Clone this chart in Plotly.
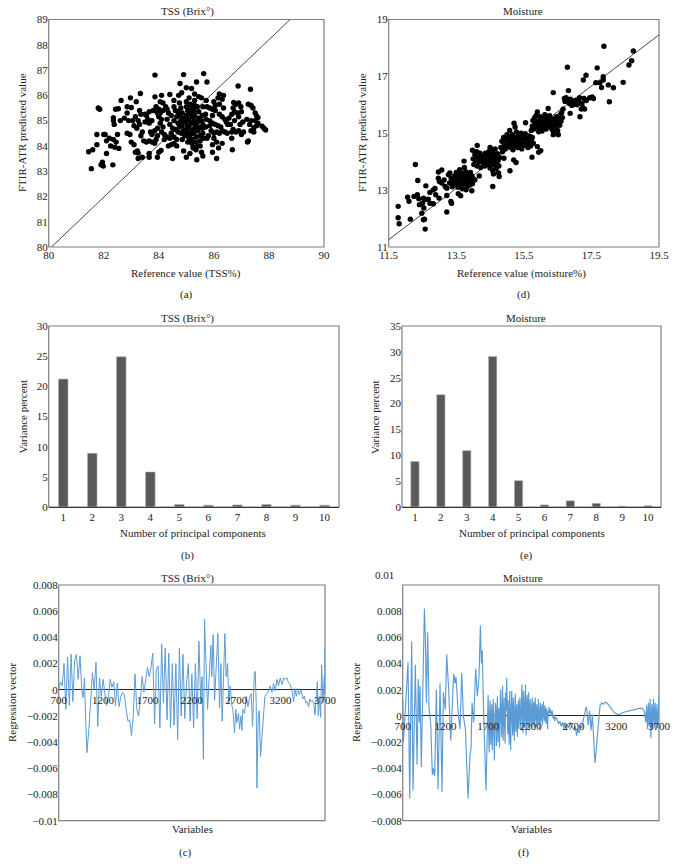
#Recreating the six panel chart: scatter, bars and regression vectors
import plotly.graph_objects as go

W, H = 676, 864
SERIF = "Liberation Serif"

#Panel (a): reference vs predicted, TSS
tss_sparse = [
    (81.45,83.77),(81.6,83.85),(81.55,83.1),(81.75,84.05),(81.75,84.45),(81.8,85.5),(81.85,85.45),(81.9,83.25),
    (81.95,83.35),(81.98,83.2),(82.0,84.45),(82.05,84.45),(82.1,84.2),(82.1,83.7),(82.2,84.3),(82.25,84.0),
    (82.35,84.25),(82.33,83.25),(82.4,83.95),(82.45,84.15),(82.5,84.45),(82.55,83.9),(82.35,85.12),(82.35,85.0),
    (82.38,84.85),(82.43,85.45),(82.53,85.47),(82.6,85.0),(82.63,85.8),(82.75,85.1),(82.85,84.5),(82.9,85.0),
    (82.85,85.3),(82.85,85.55),(82.95,84.45),(83.0,85.52),(83.0,84.15),(83.05,85.0),(82.97,85.9),(83.15,85.15),
    (83.1,84.05),(83.1,84.8),(83.2,84.7),(83.18,85.75),(83.15,83.75),(83.22,83.8),(83.25,83.5),(83.25,83.72),
    (83.33,86.07),(83.86,86.8),(84.9,86.82),(85.63,86.86),(84.77,86.47),(85.75,86.53),(85.37,86.53),(85.0,86.3),
    (85.19,86.27),(83.86,85.94),(84.1,86.0),(84.4,86.03),(84.72,86.0),(84.83,86.1),(86.88,86.37),(87.33,86.24),
    (83.4,83.55),(83.65,83.7),(83.65,83.55),(83.95,83.55),(84.0,83.75),(84.08,83.82),(84.5,83.5),(84.9,83.8),
    (85.0,83.55),(85.13,83.7),(85.38,83.45),(85.55,83.75),(85.6,83.6),(85.95,83.75),(86.1,83.5),(86.67,83.85),
    (86.17,83.92),(86.3,84.1),(87.22,84.15),(87.25,84.2),(84.35,84.0),(84.45,84.05),(84.55,84.1),(85.25,83.92),
]
tss_ring = [
    (83.3,85.4),(83.35,85.25),(83.25,85.0),(83.3,84.85),(83.4,84.55),(83.35,84.4),(83.45,84.2),(83.55,84.15),
    (83.65,84.2),(83.75,84.15),(83.85,84.1),(83.9,84.25),(83.95,84.4),(83.75,84.45),(83.7,84.55),(83.85,84.6),
    (83.55,85.2),(83.6,85.05),(83.5,84.95),(83.65,84.9),(83.75,85.0),(83.5,85.25),(83.65,85.35),(83.8,85.4),
    (83.95,85.3),(84.0,85.45),(84.05,85.3),(84.15,85.4),(84.0,85.15),(84.1,85.05),(84.05,84.9),(84.15,84.75),
    (83.95,84.7),(84.1,84.55),(84.2,84.45),(84.3,84.35),(84.2,84.25),(83.9,85.55),(84.05,85.75),(84.15,85.7),
    (84.3,85.45),(84.35,85.3),(84.45,85.2),(84.3,85.05),(84.4,84.85),(84.5,84.7),(84.45,84.5),(84.55,84.35),
    (84.65,84.25),(84.7,84.55),(84.25,85.55),(84.55,85.55),(84.6,85.4),(84.65,85.15),(84.55,85.0),(84.7,84.9),
]
tss_core = [
    (84.75,85.7),(84.8,85.5),(84.85,85.3),(84.9,85.1),(84.8,85.0),(84.85,84.8),(84.9,84.6),(84.95,84.4),
    (84.85,84.25),(85.0,85.75),(85.0,85.55),(85.05,85.4),(85.0,85.2),(85.05,85.05),(84.95,84.95),(85.05,84.8),
    (85.0,84.65),(85.05,84.5),(85.1,84.3),(85.05,84.15),(85.1,85.9),(85.15,85.65),(85.2,85.5),(85.15,85.3),
    (85.2,85.15),(85.1,85.0),(85.2,84.9),(85.1,84.75),(85.2,84.6),(85.15,84.45),(85.2,84.25),(85.2,84.1),
    (85.25,83.95),(85.3,86.05),(85.3,85.8),(85.3,85.6),(85.28,85.4),(85.3,85.2),(85.3,85.0),(85.32,84.85),
    (85.3,84.7),(85.28,84.5),(85.35,84.35),(85.35,84.15),(85.4,84.0),(85.35,83.85),(85.45,85.95),(85.55,85.9),
    (85.4,85.55),(85.45,85.35),(85.45,85.1),(85.4,84.95),(85.45,84.75),(85.42,84.6),(85.5,84.4),(85.5,84.2),
    (85.5,84.0),(85.6,85.55),(85.75,85.55),(85.72,85.8),(85.58,85.2),(85.55,85.0),(85.6,84.85),(85.58,84.7),
    (85.6,84.5),(85.62,84.3),(85.75,84.3),(85.8,84.4),(85.7,84.75),(85.72,85.05),(85.7,85.25),(85.85,85.5),
    (85.95,85.45),(86.05,85.4),(86.2,85.25),(86.3,85.15),(86.4,85.05),(86.45,84.95),(86.5,84.85),(85.85,85.0),
    (85.95,84.9),(86.05,84.85),(86.15,84.8),(86.25,84.75),(85.95,85.2),(85.85,84.8),(85.9,84.6),(86.0,84.5),
    (86.1,84.55),(86.2,84.5),(86.3,84.6),(86.4,84.55),(86.48,84.5),(86.0,84.3),(85.95,84.05),(86.1,84.15),
    (86.0,85.75),(86.05,85.6),(86.2,85.65),(86.15,85.9),(86.2,86.05),(86.35,86.0),(86.3,85.85),(86.35,85.5),
    (84.65,84.0),(84.55,85.8),(84.7,85.35),(84.75,84.75),(84.82,84.5),(84.4,84.3),(84.6,84.65),(84.75,85.2),
]
tss_right = [
    (86.55,85.1),(86.65,85.25),(86.7,85.5),(86.72,85.72),(86.8,85.65),(86.9,85.7),(86.98,85.55),(87.0,85.35),
    (86.9,85.15),(86.85,85.3),(86.75,85.35),(86.7,84.65),(86.65,84.55),(86.65,84.3),(86.8,84.55),(86.9,84.6),
    (86.95,84.85),(87.0,84.45),(87.05,84.95),(87.08,84.55),(87.2,85.05),(87.25,85.65),(87.35,85.6),(87.42,85.5),
    (87.5,85.3),(87.55,85.18),(87.6,85.12),(87.5,85.0),(87.35,85.0),(87.3,84.85),(87.35,84.6),(87.45,84.55),
    (87.55,84.8),(87.6,84.9),(87.75,84.78),(87.82,84.7),(87.88,84.63),(87.45,84.72),(86.6,84.85),(86.75,85.0),
]
tss_line_x = [80.1, 88.77]
tss_line_y = [80, 89]

#Panel (d): reference vs predicted, moisture
moist_low = [
    (11.78,12.43),(11.78,12.03),(11.81,11.82),(12.06,12.75),(12.1,12.61),(12.14,11.98),(12.25,12.78),(12.29,13.9),
    (12.35,12.84),(12.36,13.34),(12.39,12.7),(12.41,12.49),(12.48,12.19),(12.53,12.72),(12.5,12.54),(12.54,12.37),
    (12.53,11.96),(12.56,11.98),(12.58,11.63),(12.6,13.15),(12.57,12.66),(12.67,12.68),(12.72,12.54),(12.72,12.92),
    (12.82,13.01),(12.87,13.06),(12.82,12.52),(12.89,12.84),(12.99,12.72),(12.97,13.64),(13.07,13.71),(12.97,13.42),
    (13.0,13.3),(13.07,13.25),(13.14,13.36),(13.17,13.13),(13.22,13.07),(13.22,12.81),(13.22,12.23),(13.34,12.6),
    (13.36,12.54),(13.27,13.54),(13.31,13.6),(13.56,12.87),(13.63,12.8),(13.79,13.01),(13.96,12.98),(14.05,13.36),
    (14.18,13.5),(13.73,14.02),
]
moist_blob1 = [
    (13.3,13.25),(13.35,13.42),(13.38,13.12),(13.42,13.3),(13.45,13.5),(13.48,13.2),(13.5,13.62),(13.52,13.38),
    (13.55,13.1),(13.57,13.28),(13.58,13.55),(13.6,13.72),(13.62,13.42),(13.64,13.18),(13.66,13.6),(13.68,13.05),
    (13.7,13.32),(13.72,13.5),(13.74,13.8),(13.76,13.22),(13.78,13.65),(13.8,13.4),(13.82,13.12),(13.84,13.55),
    (13.86,13.28),(13.88,13.44),(13.9,13.18),(13.92,13.62),(13.94,13.34),(13.96,13.5),(13.98,13.22),(14.0,13.4),
]
moist_band = [
    (13.98,14.4),(14.0,14.1),(14.02,13.9),(14.05,14.25),(14.07,14.05),(14.1,14.35),(14.12,14.57),(14.12,13.85),
    (14.15,14.15),(14.18,14.0),(14.2,14.3),(14.22,13.8),(14.25,14.1),(14.28,14.2),(14.3,13.95),(14.32,14.05),
    (14.35,13.85),(14.36,14.3),(14.38,14.12),(14.4,14.0),(14.42,14.22),(14.45,13.9),(14.46,14.35),(14.48,14.08),
    (14.5,14.5),(14.5,13.78),(14.52,14.2),(14.54,13.95),(14.55,14.42),(14.57,14.1),(14.58,13.68),(14.6,14.3),
    (14.62,13.88),(14.64,14.02),(14.65,14.45),(14.67,14.18),(14.68,13.75),(14.7,13.95),(14.72,14.28),(14.74,14.05),
    (14.76,13.85),(14.78,14.15),(14.58,13.13),(14.6,13.57),(14.75,13.6),(14.77,13.48),(15.09,13.68),(15.2,14.06),
    (15.27,13.97),(14.91,14.12),
]
moist_blob2 = [
    (14.82,14.5),(14.85,14.72),(14.87,14.35),(14.9,14.85),(14.92,14.6),(14.95,14.45),(14.97,14.78),(15.0,14.95),
    (15.02,14.55),(15.04,14.7),(15.06,14.88),(15.08,15.1),(15.1,14.5),(15.12,14.65),(15.14,14.8),(15.16,14.95),
    (15.18,14.42),(15.21,15.35),(15.2,14.72),(15.22,14.58),(15.24,15.22),(15.26,14.85),(15.28,15.05),(15.3,14.68),
    (15.32,14.5),(15.34,14.92),(15.36,14.75),(15.38,14.6),(15.4,14.85),(15.42,15.0),(15.44,14.45),(15.46,14.7),
    (15.48,14.92),(15.5,14.58),(15.52,14.8),(15.55,15.37),(15.54,14.98),(15.57,14.62),(15.6,14.82),(15.62,14.5),
    (15.65,14.72),(15.68,14.9),(15.7,14.55),(15.72,14.78),(15.75,14.85),(15.74,14.16),(15.78,14.65),(15.9,14.53),
    (15.94,14.33),(16.0,14.39),
]
moist_blob3 = [
    (15.72,15.1),(15.75,15.25),(15.77,15.45),(15.8,15.15),(15.82,15.55),(15.84,15.35),(15.86,15.62),(15.88,15.2),
    (15.9,15.75),(15.92,15.42),(15.94,15.05),(15.96,15.3),(15.98,15.58),(16.0,15.2),(16.02,15.45),(16.04,15.08),
    (16.06,15.35),(16.08,15.52),(16.1,15.22),(16.12,15.65),(16.14,15.4),(16.16,15.15),(16.18,15.55),(16.2,15.3),
    (16.22,15.87),(16.24,15.45),(16.26,15.62),(16.37,16.43),
]
moist_blob4 = [
    (16.3,15.2),(16.32,15.38),(16.34,15.12),(16.36,15.5),(16.37,14.95),(16.38,15.05),(16.4,15.3),(16.42,15.45),
    (16.44,15.18),(16.46,15.58),(16.48,15.35),(16.5,15.1),(16.52,14.95),(16.54,15.5),(16.56,15.28),(16.58,15.65),
    (16.6,15.42),(16.62,15.72),(16.64,15.55),(16.66,15.85),(16.7,16.22),(16.72,16.12),(16.75,16.25),(16.79,17.32),
    (16.82,16.5),(16.82,16.15),(16.85,16.05),(16.87,15.7),(16.88,16.2),(16.92,15.98),(16.95,16.1),(16.98,16.02),
    (17.02,16.15),(17.05,16.05),(17.08,16.0),(17.12,16.12),(17.16,15.58),(17.15,16.25),(17.2,15.85),(17.22,16.05),
    (17.25,15.9),(17.28,16.22),(17.3,15.85),(17.35,16.15),(17.45,16.25),(17.52,16.28),(17.56,16.22),
]
moist_top = [
    (17.26,16.87),(17.67,17.3),(17.34,17.04),(17.87,18.06),(17.85,16.99),(17.85,16.87),(17.63,16.78),(17.75,16.78),
    (17.8,16.61),(18.0,16.7),(18.15,16.6),(18.03,16.11),(18.44,16.79),(18.61,17.4),(18.69,17.55),(18.74,17.89),
]
moist_line_x = [11.5, 19.5]
moist_line_y = [11.26, 18.46]

#Panels (b) and (e): variance per component
components = ["1", "2", "3", "4", "5", "6", "7", "8", "9", "10"]
var_tss = [21.2, 8.9, 24.9, 5.8, 0.4, 0.3, 0.35, 0.4, 0.3, 0.3]
var_moist = [8.8, 21.7, 10.9, 29.1, 5.1, 0.4, 1.2, 0.7, 0.15, 0.25]

#Panels (c) and (f): regression vectors, (variable, value x 1000)
rv_tss = [
    (700,0.0),(720,0.6),(740,0.3),(760,2.0),(780,-1.5),(800,2.5),(820,-1.2),(840,2.7),(860,-0.9),(880,2.3),
    (900,2.7),(920,0.8),(940,2.6),(960,0.0),(975,-0.6),(990,0.9),(1005,-2.5),(1018,-4.8),(1040,-3.0),(1060,-1.0),
    (1080,1.3),(1100,0.0),(1120,2.1),(1140,-2.8),(1160,0.9),(1180,-0.5),(1200,0.8),(1220,-0.3),(1240,-1.2),(1260,-0.6),
    (1280,0.8),(1300,0.2),(1320,0.6),(1340,-1.2),(1360,0.5),(1380,-1.3),(1400,-0.5),(1420,-0.2),(1440,-0.4),(1460,-1.5),
    (1480,-2.4),(1500,-2.3),(1520,-3.5),(1540,-2.0),(1560,1.2),(1580,-1.5),(1600,-2.0),(1620,-0.8),(1640,1.0),(1660,-0.2),
    (1680,0.6),(1700,1.7),(1720,1.0),(1740,1.7),(1760,2.8),(1780,-2.6),(1800,1.5),(1820,1.8),(1840,-2.9),(1860,3.5),
    (1880,-1.0),(1900,3.2),(1920,-2.3),(1940,2.8),(1960,-2.9),(1980,2.0),(2000,-2.7),(2020,2.0),(2040,-3.8),(2060,3.2),
    (2080,-2.0),(2100,2.7),(2120,-2.2),(2140,0.5),(2160,2.0),(2180,-2.4),(2200,1.2),(2220,-2.9),(2240,2.0),(2260,-2.2),
    (2280,3.7),(2300,-1.0),(2315,1.0),(2330,-5.3),(2343,5.4),(2360,1.0),(2377,-1.5),(2392,0.5),(2414,3.4),(2425,1.0),
    (2440,4.2),(2456,-0.8),(2470,1.0),(2493,4.3),(2512,-1.4),(2527,2.0),(2542,-2.4),(2557,2.0),(2572,4.3),(2587,1.0),
    (2602,2.0),(2617,-1.0),(2632,0.3),(2651,-1.2),(2662,-1.5),(2681,-3.3),(2696,-1.5),(2707,-2.5),(2726,-1.8),(2737,-3.0),
    (2753,-2.0),(2764,-3.1),(2775,-1.5),(2794,-1.8),(2813,-0.5),(2832,-1.3),(2850,-0.6),(2869,-0.3),(2884,-2.8),(2903,1.2),
    (2914,1.4),(2925,-1.0),(2933,-7.5),(2948,-2.0),(2959,-1.6),(2974,-5.1),(2989,-3.5),(3008,-1.5),(3023,-0.5),(3045,-0.3),
    (3064,-0.1),(3083,0.3),(3102,-0.2),(3121,0.5),(3140,-0.1),(3159,0.8),(3177,0.3),(3196,0.9),(3215,0.4),(3234,0.9),
    (3253,0.8),(3271,0.9),(3290,0.5),(3309,0.4),(3328,-0.1),(3347,-0.9),(3358,0.1),(3377,-0.5),(3392,0.1),(3410,-0.4),
    (3429,0.0),(3452,-0.7),(3467,-0.5),(3482,-1.0),(3497,-0.9),(3516,-1.3),(3527,-0.7),(3542,-0.9),(3557,-0.8),(3572,-1.0),
    (3587,-1.9),(3602,-0.5),(3614,0.6),(3625,-2.0),(3640,-0.5),(3651,-2.1),(3662,1.9),(3677,-1.0),(3692,1.0),(3697,-0.3),(3700,3.2),
]
rv_moist_low = [
    (700,1.2),(708,-2.0),(727,0.0),(747,2.0),(762,4.1),(782,-6.3),(805,5.7),(821,-5.7),(848,3.9),(868,-3.7),
    (883,2.8),(895,-0.5),(903,2.3),(918,-3.9),(934,1.0),(954,8.2),(965,6.0),(977,1.0),(993,6.4),(1008,0.6),
    (1028,-0.6),(1047,-4.5),(1059,-4.0),(1075,-4.6),(1094,2.0),(1114,-5.6),(1137,2.5),(1160,-5.8),(1176,1.8),(1199,0.5),
    (1215,4.7),(1238,2.0),(1262,-1.9),(1297,3.2),(1313,2.5),(1324,3.0),(1352,0.0),(1371,-1.0),(1391,3.3),(1410,0.0),
    (1434,-1.0),(1449,-4.0),(1465,-6.3),(1488,-3.0),(1500,-2.5),(1512,1.0),(1531,-0.5),(1554,3.6),(1574,1.5),(1593,3.0),
    (1609,6.9),(1621,4.0),(1632,5.0),(1644,1.0),(1660,-3.0),(1675,-5.7),(1691,-1.0),
]
rv_moist_dense = [
    (1700,1.6),(1706,-1.2),(1712,-2.8),(1718,0.4),(1724,1.2),(1730,-2.2),(1736,-0.8),(1742,0.9),(1748,-2.6),(1754,-0.5),
    (1760,1.3),(1766,-1.0),(1773,-3.4),(1779,-0.6),(1785,1.0),(1791,0.2),(1797,-2.3),(1803,0.5),(1809,1.5),(1815,-2.0),
    (1821,-0.3),(1827,0.6),(1833,-2.4),(1839,-0.7),(1845,2.0),(1851,0.3),(1857,-1.6),(1863,0.8),(1869,2.3),(1875,-1.9),
    (1881,0.1),(1887,1.4),(1893,-0.9),(1899,-2.1),(1905,1.8),(1911,0.4),(1917,2.9),(1923,-0.4),(1929,-1.4),(1935,1.2),
    (1941,-0.6),(1947,-2.2),(1953,1.9),(1958,-0.8),(1964,-2.6),(1970,0.3),(1976,1.9),(1982,-0.3),(1988,-1.5),(1994,1.4),
    (2000,0.2),(2006,-1.9),(2012,0.6),(2018,1.7),(2024,-1.2),(2030,0.3),(2036,0.9),(2042,-1.6),(2048,-0.2),(2054,1.2),
    (2060,-1.0),(2066,0.5),(2072,1.4),(2078,-0.4),(2084,-1.1),(2090,1.0),(2096,2.4),(2102,-0.2),(2108,-1.3),(2114,1.9),
    (2120,0.3),(2126,-0.9),(2132,1.1),(2138,2.4),(2144,-1.5),(2150,0.2),(2156,1.6),(2162,-0.8),(2168,0.4),(2174,1.8),
    (2180,-1.1),(2186,0.6),(2192,1.3),(2198,-0.3),(2204,-1.0),(2210,0.8),(2216,1.4),(2222,-0.7),(2228,0.2),(2234,1.1),
    (2240,-0.9),(2246,0.3),(2252,1.4),(2258,-0.2),(2264,-0.8),(2270,0.9),(2276,0.2),(2282,-0.6),(2288,1.3),(2294,0.1),
    (2300,-1.0),(2306,0.4),(2312,1.0),(2318,-0.5),(2324,0.2),(2330,0.9),(2336,-0.7),(2342,0.5),(2348,1.1),(2354,-0.1),
    (2360,-0.4),(2366,0.8),(2372,-0.2),(2378,-0.6),(2384,0.6),(2390,0.0),(2396,-1.0),(2402,0.4),(2408,0.1),(2414,0.7),
    (2420,0.2),(2430,0.5),(2440,0.0),(2450,0.4),(2460,-0.2),(2470,0.1),(2480,-0.4),(2490,-0.1),
]
rv_moist_high = [
    (2510,-0.3),(2525,-0.6),(2540,-0.4),(2555,-0.8),(2570,-0.5),(2585,-0.9),(2600,-0.6),(2615,-1.1),(2630,-0.7),(2645,-0.9),
    (2660,-0.5),(2675,-0.8),(2690,-0.9),(2705,-1.1),(2720,-0.8),(2735,-1.5),(2750,-1.0),(2765,-1.3),(2780,-0.8),(2795,-0.9),
    (2810,-0.5),(2825,-0.1),(2848,0.7),(2858,0.3),(2872,-0.7),(2888,0.4),(2905,-1.1),(2920,0.1),(2935,-1.9),(2951,-3.6),
    (2965,-2.6),(2977,-1.5),(2990,-0.5),(3010,0.8),(3030,1.0),(3050,0.9),(3070,1.05),(3090,1.0),(3110,0.85),(3125,0.7),
    (3145,0.5),(3165,0.35),(3190,0.2),(3220,0.1),(3245,0.15),(3270,0.25),(3300,0.3),(3330,0.35),(3360,0.45),(3390,0.5),
    (3420,0.55),(3450,0.6),(3480,0.6),(3510,0.55),(3530,0.3),(3545,-0.5),(3555,0.8),(3565,-1.0),(3575,1.0),(3585,-0.8),
    (3595,1.3),(3605,-1.7),(3615,0.9),(3625,-1.0),(3635,1.3),(3645,-0.9),(3655,1.0),(3665,-1.1),(3675,0.9),(3685,-0.9),
    (3695,0.7),(3700,1.6),
]

#Position of each panel in pixels: left, right, top, bottom
panels = {
    "a": (48.7, 324, 19.5, 247),
    "d": (388.7, 659, 19.5, 247),
    "b": (48.7, 339, 326, 507),
    "e": (402, 661, 326, 507),
    "c": (58.7, 325, 585, 820.7),
    "f": (402.7, 659, 585, 820.7),
}
frame_color = "#7f7f7f"
line_blue = "#5b9bd5"

fig = go.Figure()


def frac_x(px):
    return px / W


def frac_y(py):
    return 1 - py / H


def setup_axes(idx, key, xaxis, yaxis):
    l, r, t, b = panels[key]
    base = dict(showgrid=False, zeroline=False, ticks="", showline=False, automargin=False,
                tickfont=dict(family=SERIF, size=11, color="#222"))
    fig.update_layout({
        f"xaxis{idx}": {**base, "domain": [frac_x(l), frac_x(r)], "anchor": f"y{idx}", **xaxis},
        f"yaxis{idx}": {**base, "domain": [frac_y(b), frac_y(t)], "anchor": f"x{idx}", **yaxis},
    })
    fig.add_shape(type="rect", xref="paper", yref="paper", x0=frac_x(l), x1=frac_x(r), y0=frac_y(b), y1=frac_y(t),
                  line=dict(color=frame_color, width=1.2), layer="below")


def label(text, px, py, angle=0, anchor="center", size=11):
    fig.add_annotation(text=text, x=frac_x(px), y=frac_y(py), xref="paper", yref="paper", showarrow=False,
                       textangle=angle, xanchor=anchor, yanchor="middle",
                       font=dict(family=SERIF, size=size, color="#222"))


def scatter_panel(idx, points, line_x, line_y):
    fig.add_trace(go.Scatter(x=line_x, y=line_y, mode="lines", line=dict(color="#333", width=0.9),
                             xaxis=f"x{idx}", yaxis=f"y{idx}"))
    fig.add_trace(go.Scatter(x=[p[0] for p in points], y=[p[1] for p in points], mode="markers",
                             marker=dict(color="black", size=5.4), xaxis=f"x{idx}", yaxis=f"y{idx}"))


def bar_panel(idx, values, bar_width):
    fig.add_trace(go.Bar(x=components, y=values, marker=dict(color="#595959", line=dict(color="#b5b5b5", width=0.6)),
                         width=bar_width, xaxis=f"x{idx}", yaxis=f"y{idx}"))


def vector_panel(idx, points, width):
    fig.add_trace(go.Scatter(x=[p[0] for p in points], y=[p[1] / 1000 for p in points], mode="lines",
                             line=dict(color=line_blue, width=width), xaxis=f"x{idx}", yaxis=f"y{idx}"))


#Scatter panels
scatter_panel(2, tss_sparse + tss_ring + tss_core + tss_right, tss_line_x, tss_line_y)
setup_axes(2, "a", dict(range=[80, 90], dtick=2), dict(range=[80, 89], dtick=1))
scatter_panel(3, moist_low + moist_blob1 + moist_band + moist_blob2 + moist_blob3 + moist_blob4 + moist_top, moist_line_x, moist_line_y)
setup_axes(3, "d", dict(range=[11.5, 19.5], tickvals=[11.5, 13.5, 15.5, 17.5, 19.5], tickformat=".1f"),
           dict(range=[11, 19], dtick=2, tick0=11))

#Bar panels
bar_panel(4, var_tss, 0.33)
setup_axes(4, "b", dict(type="category", range=[-0.5, 9.5], showline=True, linecolor="#333", linewidth=1), dict(range=[0, 30], dtick=5))
bar_panel(5, var_moist, 0.32)
setup_axes(5, "e", dict(type="category", range=[-0.5, 9.5], showline=True, linecolor="#333", linewidth=1), dict(range=[0, 35], dtick=5))

#Regression vector panels, the x axis sits on the zero line
vector_ticks = [700, 1200, 1700, 2200, 2700, 3200, 3700]
tss_vals = [0.008, 0.006, 0.004, 0.002, 0, -0.002, -0.004, -0.006, -0.008, -0.01]
tss_text = ["0.008", "0.006", "0.004", "0.002", "0", "\u22120.002", "\u22120.004", "\u22120.006", "\u22120.008", "\u22120.01"]
moist_vals = [0.008, 0.006, 0.004, 0.002, 0, -0.002, -0.004, -0.006, -0.008]
moist_text = ["0.008", "0.006", "0.004", "0.002", "0", "\u22120.002", "\u22120.004", "\u22120.006", "\u22120.008"]

vector_panel(6, rv_tss, 1)
setup_axes(6, "c", dict(range=[700, 3700], tickvals=vector_ticks, anchor="free", position=frac_y(690), ticklabelstandoff=2),
           dict(range=[-0.01, 0.008], tickvals=tss_vals, ticktext=tss_text, zeroline=True, zerolinecolor="#222", zerolinewidth=1))
vector_panel(7, rv_moist_low + rv_moist_dense + rv_moist_high, 1.15)
setup_axes(7, "f", dict(range=[700, 3700], tickvals=vector_ticks, anchor="free", position=frac_y(715.7), ticklabelstandoff=2),
           dict(range=[-0.008, 0.01], tickvals=moist_vals, ticktext=moist_text, zeroline=True, zerolinecolor="#222", zerolinewidth=1))

#Titles, axis labels and captions
label("TSS (Brix\u00b0)", 187, 11)
label("Reference value (TSS%)", 186, 273)
label("(a)", 186, 295)
label("FTIR-ATR predicted value", 22, 133, angle=-90)
label("Moisture", 523, 11)
label("Reference value (moisture%)", 521.7, 273)
label("(d)", 523, 295)
label("FTIR-ATR predicted value", 362, 133, angle=-90)
label("TSS (Brix\u00b0)", 187, 318)
label("Number of principal components", 193, 533)
label("(b)", 187, 555)
label("Variance percent", 22.5, 417, angle=-90)
label("Moisture", 526, 318)
label("Number of principal components", 532, 533)
label("(e)", 526, 555)
label("Variance percent", 375, 417, angle=-90)
label("TSS (Brix\u00b0)", 187, 578)
label("Variables", 192, 829)
label("(c)", 185, 852)
label("Regression vector", 12, 703, angle=-90)
label("Moisture", 523, 578)
label("Variables", 531, 829)
label("(f)", 523, 852)
label("Regression vector", 356, 703, angle=-90)
label("0.01", 396, 575, anchor="right")

fig.update_layout(width=W, height=H, margin=dict(l=0, r=0, t=0, b=0), showlegend=False,
                  plot_bgcolor="white", paper_bgcolor="white")

#The page has a default body margin, drop it so the figure fills the window
fig.write_html("out.html", post_script="document.body.style.margin='0';", config=dict(displayModeBar=False))
